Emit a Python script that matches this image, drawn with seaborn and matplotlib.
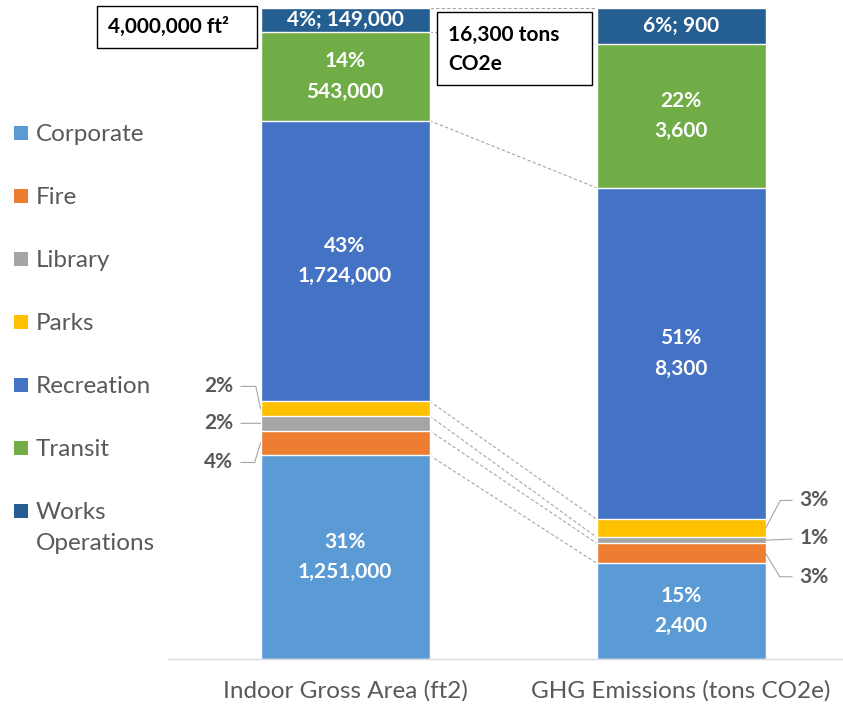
import matplotlib.pyplot as plt
import matplotlib.patches as mpatches
import pandas as pd
import seaborn as sns

# Datos
categories = ["Corporate", "Fire", "Library", "Parks", "Recreation", "Transit", "Works\nOperations"]
colors = ["#5B9BD5", "#ED7D31", "#A5A5A5", "#FFC000", "#4472C4", "#70AD47", "#255E91"]
metrics = ["Indoor Gross Area (ft2)", "GHG Emissions (tons CO2e)"]
area_ft2 = [1251000, 152000, 90000, 91000, 1724000, 543000, 149000]
ghg_tons = [2400, 500, 150, 450, 8300, 3600, 900]
# como se rotula cada segmento: dentro (2 lineas), dentro en 1 linea, o fuera
label_mode = ["in", "out", "out", "out", "in", "in", "one"]

sns.set_theme(style="white")
plt.rcParams["font.family"] = ["Lato", "DejaVu Sans"]
GRAY = "#595959"
W, H = 843, 708

df = pd.DataFrame({"category": categories, metrics[0]: area_ft2, metrics[1]: ghg_tons})
totals = df[metrics].sum()
share = df[metrics] / totals
cum = share.cumsum()

fig = plt.figure(figsize=(W / 100, H / 100), dpi=100)
ax = fig.add_axes([168 / W, 49 / H, 675 / W, 651 / H])

# Barras apiladas: se dibuja el acumulado de arriba hacia abajo
bar_w = 0.503
for i in reversed(range(len(categories))):
    sns.barplot(x=metrics, y=cum.iloc[i].values, color=colors[i], width=bar_w,
                saturation=1, errorbar=None, ax=ax)

ax.set_xlim(-0.527, 1.482)
ax.set_ylim(0, 1)

# Lineas de serie entre barras
x0, x1 = bar_w / 2, 1 - bar_w / 2
for a, b in zip(cum[metrics[0]], cum[metrics[1]]):
    ax.plot([x0, x1], [a, b], color="#A6A6A6", lw=0.8, ls=(0, (3, 2)), zorder=0.5, clip_on=False)

# Etiquetas
out_offsets = {
    0: {1: (-30, -14, -107), 2: (-30, 0, None), 3: (-30, 16, 102)},
    1: {1: (35, -17, -59), 2: (35, 1.5, None), 3: (35, 20, 62)},
}
lab_kw = dict(ha="center", va="center", fontsize=15, fontweight="bold", linespacing=1.65)
for j, m in enumerate(metrics):
    for i in range(len(categories)):
        v = int(df[m].iloc[i])
        p = share[m].iloc[i]
        mid = cum[m].iloc[i] - p / 2
        pct = f"{p * 100:.0f}%"
        if label_mode[i] == "in":
            ax.text(j, mid, f"{pct}\n{v:,}", color="white", **lab_kw)
        elif label_mode[i] == "one":
            ax.text(j, mid, f"{pct}; {v:,}", color="white", **lab_kw)
        else:
            dx, dy, angB = out_offsets[j][i]
            edge = j - bar_w / 2 if j == 0 else j + bar_w / 2
            cs = "arc3,rad=0" if angB is None else f"angle,angleA=0,angleB={angB},rad=0"
            ax.annotate(pct, xy=(edge, mid), xytext=(dx, dy), textcoords="offset points",
                        color=GRAY, **lab_kw,
                        arrowprops=dict(arrowstyle="-", color="#A6A6A6", lw=0.8,
                                        connectionstyle=cs, shrinkA=3, shrinkB=0))

# Ejes
ax.set_xlabel("")
ax.set_ylabel("")
ax.set_yticks([])
ax.tick_params(axis="x", length=0, pad=15, labelsize=17.5, labelcolor=GRAY)
for s in ["left", "top", "right"]:
    ax.spines[s].set_visible(False)
ax.spines["bottom"].set_color("#D9D9D9")
ax.spines["bottom"].set_linewidth(1)


def px_rect(x0p, y0p, x1p, y1p, **kw):
    return mpatches.Rectangle((x0p / W, 1 - y1p / H), (x1p - x0p) / W, (y1p - y0p) / H,
                              transform=fig.transFigure, **kw)


# Cajas con totales
box_kw = dict(facecolor="white", edgecolor="black", lw=1, zorder=2)
fig.add_artist(px_rect(97, 6, 257, 48, **box_kw))
fig.add_artist(px_rect(437, 12, 592, 85, **box_kw))
fig.text(108 / W, 1 - 27 / H, f"{int(totals[metrics[0]]):,} ft²", ha="left", va="center",
         fontsize=15, fontweight="bold", color="black", zorder=3)
fig.text(448 / W, 1 - 25 / H, f"{int(totals[metrics[1]]):,} tons\nCO2e", ha="left", va="top",
         fontsize=15, fontweight="bold", color="black", zorder=3, linespacing=1.55)

# Leyenda (cuadro alineado con la primera linea del texto)
leg_fs = 17.5
em = leg_fs * 100 / 72
for i, (c, lab) in enumerate(zip(colors, categories)):
    yc = 133 + 63 * i
    fig.add_artist(px_rect(14, yc - 7, 28, yc + 7, facecolor=c, edgecolor="none"))
    fig.text(36 / W, 1 - (yc - 0.36 * em) / H, lab, ha="left", va="top", fontsize=leg_fs,
             color=GRAY, linespacing=1.56)

fig.savefig("out.png", dpi=100)
